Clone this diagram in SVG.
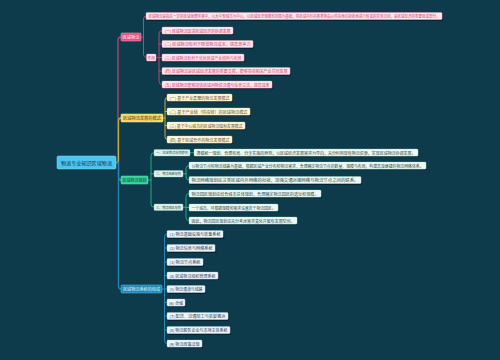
<svg xmlns="http://www.w3.org/2000/svg" width="500" height="360" viewBox="0 0 500 360">
<defs>
<filter id="sh" x="-10%" y="-40%" width="120%" height="200%">
<feDropShadow dx="0.8" dy="0.9" stdDeviation="0.3" flood-color="#000" flood-opacity="0.7"/>
</filter>
<style>
text{font-family:"Noto Sans CJK SC","Noto Sans",sans-serif;font-size:4px;dominant-baseline:central;}
.leaf{filter:url(#sh);}
.c{fill:none;stroke-linecap:round;stroke-linejoin:round;}
.cp{stroke:#b24a72;stroke-width:1;}
.cy{stroke:#c9a640;stroke-width:1;}
.cg{stroke:#27a884;stroke-width:1;}
.cb{stroke:#2a86b0;stroke-width:1;}
.main{stroke-width:1.3;}
.pk{fill:#fde6ee;stroke:#f29ab7;stroke-width:0.3;}
.pkT{fill:#d23f70;}
.yl{fill:#fdf6df;stroke:#f0d47a;stroke-width:0.3;}
.ylT{fill:#6b5420;}
.gr{fill:#eef7f4;stroke:#8fdcc2;stroke-width:0.3;}
.grT{fill:#2d4a44;}
.gl{fill:#dff0ea;stroke:#9fdcc8;stroke-width:0.3;}
.glT{fill:#2c5a4f;}
.bl{fill:#edf3f7;stroke:#9cc9e0;stroke-width:0.3;}
.blT{fill:#2f4558;}
</style>
</defs>
<rect x="0" y="0" width="500" height="360" fill="#0d3b4c"/>

<g id="connectors">
<path class="c cp main" d="M116 162.5 H118 V40 Q118 37 121 37"/>
<path class="c cy main" d="M116 162.5 H118.5 V121 Q118.5 118 121 118"/>
<path class="c cg main" d="M116 162.5 H118.5 V177 Q118.5 180 121 180"/>
<path class="c cb main" d="M116 162.5 H118.5 V286 Q118.5 289 121 289"/>

<path class="c cp" d="M141 37 H143.5 M143.5 37 V19 Q143.5 16 146 16 M143.5 37 V54.5 Q143.5 57.5 146.5 57.5"/>
<path class="c cp" d="M156 57.5 H159 M159 57.5 V33.5 Q159 30.5 162 30.5 M159 57.5 V81.5 Q159 84.5 162 84.5 M159 44 H162 M159 57.5 H162 M159 71 H162"/>

<path class="c cy" d="M163 118 H165 M165 118 V100.5 Q165 97.5 167 97.5 M165 118 V136.5 Q165 139.5 167 139.5 M165 111.5 H167 M165 125.5 H167"/>

<path class="c cg" d="M148 180 H151 M151 180 V155.75 Q151 152.75 154 152.75 M151 180 V204.25 Q151 207.25 154 207.25 M151 173.75 H154"/>
<path class="c cg" d="M190 152.75 H194"/>
<path class="c cg" d="M183 173.75 H186 M186 173.75 V168.5 Q186 165.5 189 165.5 M186 173.75 V177 Q186 180 189 180"/>
<path class="c cg" d="M183 207.25 H186 M186 207.25 V196.5 Q186 193.5 189 193.5 M186 207.25 V217.5 Q186 220.5 189 220.5 M186 207.5 H189"/>

<path class="c cb" d="M162 289 H164.5 M164.5 289 V237 Q164.5 234 167 234 M164.5 289 V340.5 Q164.5 343.5 167 343.5 M164.5 248 H167 M164.5 262 H167 M164.5 275.5 H167 M164.5 289 H167 M164.5 302.5 H167 M164.5 316 H167 M164.5 330 H167"/>
</g>

<g id="root">
<rect x="57" y="156" width="59" height="13" rx="1.5" fill="#4dc4f0" stroke="#8ad8f5" stroke-width="0.5"/>
<text x="61" y="162.5" style="font-size:5px" textLength="51" lengthAdjust="spacingAndGlyphs" fill="#0a3550">物流专业知识区域物流</text>
</g>

<g id="b-pink">
<rect x="121" y="33" width="20" height="8" rx="1" fill="#e64f80" stroke="#f7a6bf" stroke-width="0.5"/>
<text x="122.5" y="37" textLength="17" lengthAdjust="spacingAndGlyphs" fill="#ffffff">区域物流</text>
</g>
<g id="p-def">
<rect class="leaf pk" x="146" y="12.5" width="296" height="7" rx="1"/>
<text class="pkT" x="148.5" y="16" textLength="291" lengthAdjust="spacingAndGlyphs">区域物流是指在一定的区域地理环境中，以大中型城市为中心，以区域经济规模和范围为基础，将区域内外的各类物品从供应地向接收地进行有效的实体流动，是区域经济的重要组成部分。</text>
</g>
<g id="p-role">
<rect class="leaf pk" x="146.5" y="54" width="9.5" height="7" rx="1"/>
<text class="pkT" x="147.5" y="57.5" textLength="7.5" lengthAdjust="spacingAndGlyphs">作用</text>
</g>
<g id="p1"><rect class="leaf pk" x="162" y="27" width="71" height="7" rx="1"/><text class="pkT" x="164.5" y="30.5" textLength="66" lengthAdjust="spacingAndGlyphs">(一) 区域物流促进区域经济的协调发展</text></g>
<g id="p2"><rect class="leaf pk" x="162" y="40.5" width="91" height="7" rx="1"/><text class="pkT" x="164.5" y="44" textLength="86" lengthAdjust="spacingAndGlyphs">(二) 区域物流有利于降低物流成本，提高竞争力</text></g>
<g id="p3"><rect class="leaf pk" x="162" y="54" width="82" height="7" rx="1"/><text class="pkT" x="164.5" y="57.5" textLength="77" lengthAdjust="spacingAndGlyphs">(三) 区域物流有利于优化区域产业结构与布局</text></g>
<g id="p4"><rect class="leaf pk" x="162" y="67.5" width="128" height="7" rx="1"/><text class="pkT" x="164.5" y="71" textLength="123" lengthAdjust="spacingAndGlyphs">(四) 区域物流是区域经济发展的重要支撑，能够带动相关产业共同发展</text></g>
<g id="p5"><rect class="leaf pk" x="162" y="81" width="110" height="7" rx="1"/><text class="pkT" x="164.5" y="84.5" textLength="105" lengthAdjust="spacingAndGlyphs">(五) 区域物流能够加快区域间物资流通与信息交流，提高效率</text></g>

<g id="b-yellow">
<rect x="121" y="114" width="42" height="8" rx="1" fill="#f6d365" stroke="#fff0b0" stroke-width="0.5"/>
<text x="123" y="118" textLength="38" lengthAdjust="spacingAndGlyphs" fill="#5a4200">区域物流发展的模式</text>
</g>
<g id="y1"><rect class="leaf yl" x="167" y="94" width="65" height="7" rx="1"/><text class="ylT" x="169.5" y="97.5" textLength="60" lengthAdjust="spacingAndGlyphs">(一) 基于产业集聚的物流发展模式</text></g>
<g id="y2"><rect class="leaf yl" x="167" y="108" width="83" height="7" rx="1"/><text class="ylT" x="169.5" y="111.5" textLength="78" lengthAdjust="spacingAndGlyphs">(二) 基于产业链（供应链）的区域物流模式</text></g>
<g id="y3"><rect class="leaf yl" x="167" y="122" width="78" height="7" rx="1"/><text class="ylT" x="169.5" y="125.5" textLength="73" lengthAdjust="spacingAndGlyphs">(三) 基于中心城市的区域物流辐射发展模式</text></g>
<g id="y4"><rect class="leaf yl" x="167" y="136" width="65" height="7" rx="1"/><text class="ylT" x="169.5" y="139.5" textLength="60" lengthAdjust="spacingAndGlyphs">(四) 基于区域合作的物流发展模式</text></g>

<g id="b-green">
<rect x="121" y="176" width="27" height="8" rx="1" fill="#2fcf98" stroke="#7ee6c2" stroke-width="0.5"/>
<text x="122.5" y="180" textLength="24" lengthAdjust="spacingAndGlyphs" fill="#0b4b3a">区域物流规划</text>
</g>
<g id="g1"><rect class="gl" x="154" y="149.5" width="36" height="6.5" rx="1"/><text class="glT" x="156" y="152.75" style="font-size:3.6px" textLength="32" lengthAdjust="spacingAndGlyphs">一、区域物流规划原则</text></g>
<g id="g2"><rect class="gl" x="154" y="170.5" width="29" height="6.5" rx="1"/><text class="glT" x="156" y="173.75" style="font-size:3.6px" textLength="25" lengthAdjust="spacingAndGlyphs">二、物流网络规划</text></g>
<g id="g3"><rect class="gl" x="154" y="204" width="29" height="6.5" rx="1"/><text class="glT" x="156" y="207.25" style="font-size:3.6px" textLength="25" lengthAdjust="spacingAndGlyphs">三、物流园区规划</text></g>
<g id="g1a"><rect class="leaf gr" x="194" y="149" width="224" height="7" rx="1"/><text class="grT" x="196.5" y="152.5" textLength="219" lengthAdjust="spacingAndGlyphs">遵循统一规划、合理布局、分步实施的原则，以区域经济发展需求为导向，充分利用现有物流资源，实现区域物流协调发展。</text></g>
<g id="g2a"><rect class="leaf gr" x="189" y="162" width="237" height="7" rx="1"/><text class="grT" x="191.5" y="165.5" textLength="232" lengthAdjust="spacingAndGlyphs">以物流节点和物流线路为基础，根据区域产业分布和物流需求，合理确定物流节点的数量、规模与布局，构建高效便捷的物流网络体系。</text></g>
<g id="g2b"><rect class="leaf gr" x="189" y="176.5" width="172" height="7" rx="1"/><text class="grT" x="191.5" y="180" textLength="167" lengthAdjust="spacingAndGlyphs">物流网络规划应注重区域内外网络的衔接，加强交通运输网络与物流节点之间的联系。</text></g>
<g id="g3a"><rect class="leaf gr" x="189" y="190" width="132" height="7" rx="1"/><text class="grT" x="191.5" y="193.5" textLength="127" lengthAdjust="spacingAndGlyphs">物流园区规划应结合城市总体规划，合理确定物流园区的选址和规模。</text></g>
<g id="g3b"><rect class="leaf gr" x="189" y="204" width="89" height="7" rx="1"/><text class="grT" x="191.5" y="207.5" textLength="84" lengthAdjust="spacingAndGlyphs">一个城市，可根据规模和需求设置若干物流园区。</text></g>
<g id="g3c"><rect class="leaf gr" x="189" y="217" width="108" height="7" rx="1"/><text class="grT" x="191.5" y="220.5" textLength="103" lengthAdjust="spacingAndGlyphs">因此，物流园区规划应充分考虑需求变化并留有发展空间。</text></g>

<g id="b-blue">
<rect x="121" y="285" width="41" height="8" rx="1" fill="#2088b5" stroke="#5cc1e8" stroke-width="0.5"/>
<text x="123" y="289" textLength="37" lengthAdjust="spacingAndGlyphs" fill="#e0f4fb">区域物流系统的组成</text>
</g>
<g id="s1"><rect class="leaf bl" x="167" y="230.5" width="56" height="7" rx="1"/><text class="blT" x="169.5" y="234" textLength="51" lengthAdjust="spacingAndGlyphs">(1) 物流基础设施与装备系统</text></g>
<g id="s2"><rect class="leaf bl" x="167" y="244.5" width="48" height="7" rx="1"/><text class="blT" x="169.5" y="248" textLength="43" lengthAdjust="spacingAndGlyphs">(2) 物流信息与网络系统</text></g>
<g id="s3"><rect class="leaf bl" x="167" y="258.5" width="36" height="7" rx="1"/><text class="blT" x="169.5" y="262" textLength="31" lengthAdjust="spacingAndGlyphs">(3) 物流节点系统</text></g>
<g id="s4"><rect class="leaf bl" x="167" y="272" width="51" height="7" rx="1"/><text class="blT" x="169.5" y="275.5" textLength="46" lengthAdjust="spacingAndGlyphs">(4) 区域物流组织管理系统</text></g>
<g id="s5"><rect class="leaf bl" x="167" y="285.5" width="38" height="7" rx="1"/><text class="blT" x="169.5" y="289" textLength="33" lengthAdjust="spacingAndGlyphs">(5) 物流通道与线路</text></g>
<g id="s6"><rect class="leaf bl" x="167" y="299" width="18" height="7" rx="1"/><text class="blT" x="169" y="302.5" textLength="14" lengthAdjust="spacingAndGlyphs">(6) 仓储</text></g>
<g id="s7"><rect class="leaf bl" x="167" y="312.5" width="61" height="7" rx="1"/><text class="blT" x="169.5" y="316" textLength="56" lengthAdjust="spacingAndGlyphs">(7) 配送、流通加工与装卸搬运</text></g>
<g id="s8"><rect class="leaf bl" x="167" y="326.5" width="63" height="7" rx="1"/><text class="blT" x="169.5" y="330" textLength="58" lengthAdjust="spacingAndGlyphs">(8) 物流服务企业与市场主体系统</text></g>
<g id="s9"><rect class="leaf bl" x="167" y="340" width="35" height="7" rx="1"/><text class="blT" x="169.5" y="343.5" textLength="30" lengthAdjust="spacingAndGlyphs">(9) 物流政策法规</text></g>
</svg>
